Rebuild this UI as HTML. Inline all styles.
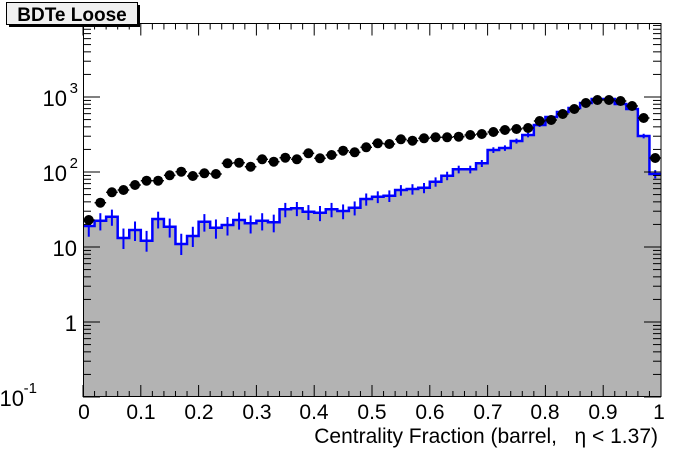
<!DOCTYPE html>
<html><head><meta charset="utf-8"><style>
html,body{margin:0;padding:0;background:#fff;}
svg{display:block;font-family:"Liberation Sans",Arial,sans-serif;}
</style></head><body>
<svg id="s" width="696" height="472" viewBox="0 0 696 472" xmlns="http://www.w3.org/2000/svg">
<g id="plot"></g>
<g id="axes" stroke="#000" stroke-width="1" fill="none"></g>
<rect x="83.5" y="23.5" width="577.5" height="373" fill="none" stroke="#000" stroke-width="1"/>
<g font-size="22" fill="#000" text-anchor="end">
<text x="67" y="106">10</text><text x="78" y="93" font-size="15" text-anchor="end">3</text>
<text x="67" y="181">10</text><text x="78" y="168" font-size="15" text-anchor="end">2</text>
<text x="77" y="256">10</text>
<text x="77" y="331">1</text>
<text x="24" y="406">10</text><text x="37" y="393" font-size="15" text-anchor="end">-1</text>
</g>
<g font-size="21" fill="#000" text-anchor="middle">
<text x="84" y="419">0</text><text x="141" y="419">0.1</text><text x="199" y="419">0.2</text>
<text x="257" y="419">0.3</text><text x="314" y="419">0.4</text><text x="372" y="419">0.5</text>
<text x="430" y="419">0.6</text><text x="488" y="419">0.7</text><text x="545" y="419">0.8</text>
<text x="603" y="419">0.9</text><text x="659" y="419">1</text>
</g>
<text x="658" y="443" font-size="21" text-anchor="end" fill="#000" xml:space="preserve" style="white-space:pre">Centrality Fraction (barrel,   η &lt; 1.37)</text>
<rect x="9" y="5" width="131" height="22" fill="#000"/>
<rect x="6.5" y="2.5" width="131" height="22" fill="#f0f0f0" stroke="#000"/>
<text x="72" y="21" font-size="19" font-weight="bold" text-anchor="middle" fill="#000">BDTe Loose</text>
</svg>
<script>
var X0=83,W=578,bw=W/50,Y0=397;
function ly(v){return 97-75*(Math.log10(v)-3);}
var blue=[226,220.7,216.7,238,230,240.7,219,226.7,244,236,221.7,227.7,225,220,223.3,220.7,222.3,209.3,208.3,211.7,212.7,209.3,211,207.7,199,196.7,195.7,190,189,187.7,181.7,175.7,169.3,169.3,163.3,150,148,141,135,125,117,112,108,103,99,99,104,109,136,174];
var blk=[220,202.7,192.3,190,185,180.7,180.7,175.3,171.7,176,173.3,174,163.3,162.7,166.7,159.3,161.7,157.7,159.3,153.3,158.3,155,150.7,152.3,147.3,143.3,144,139.3,140.7,138.3,137.3,137.3,136.7,135,134,132,130,129,128,121,120,114,109,103,100,100,101,106,118,158];
var ns="http://www.w3.org/2000/svg",P=document.getElementById("plot"),A=document.getElementById("axes");
function el(t,a,p){var e=document.createElementNS(ns,t);for(var k in a)e.setAttribute(k,a[k]);(p||P).appendChild(e);return e;}
var d="M"+X0+","+Y0;
for(var i=0;i<50;i++){d+=" L"+(X0+i*bw)+","+blue[i]+" L"+(X0+(i+1)*bw)+","+blue[i];}
d+=" L"+(X0+W)+","+Y0+" Z";
el("path",{d:d,fill:"#b3b3b3",stroke:"none"});
var d2="M"+X0+","+blue[0];
for(var i=0;i<50;i++){d2+=" L"+(X0+i*bw)+","+blue[i]+" L"+(X0+(i+1)*bw)+","+blue[i];}
el("path",{d:d2,fill:"none",stroke:"#0000ff","stroke-width":2.5});
for(var i=0;i<50;i++){var cx=X0+(i+0.5)*bw,v=Math.pow(10,3-(blue[i]-97)/75),e=Math.sqrt(v*1.5);
var e1=Math.min(ly(Math.max(v-e,0.2)),blue[i]+11),e2=ly(v+e);
el("line",{x1:cx,x2:cx,y1:e2,y2:e1,stroke:"#0000ff","stroke-width":2});}
for(var i=0;i<50;i++){var cx=X0+(i+0.5)*bw;
el("line",{x1:X0+i*bw,x2:X0+(i+1)*bw,y1:blk[i],y2:blk[i],stroke:"#000","stroke-width":1.5});
el("circle",{cx:cx,cy:blk[i],r:5,fill:"#000"});}
for(var dec=-1;dec<4;dec++){for(var m=1;m<10;m++){var y=ly(m*Math.pow(10,dec));if(y<23)continue;var L=(m==1)?17:8;
el("line",{x1:X0,x2:X0+L,y1:y,y2:y},A);el("line",{x1:X0+W,x2:X0+W-L,y1:y,y2:y},A);}}
for(var k=0;k<=50;k++){var x=X0+k*W/50;var L=(k%5==0)?12:6;
el("line",{x1:x,x2:x,y1:Y0,y2:Y0-L},A);el("line",{x1:x,x2:x,y1:23.5,y2:23.5+L},A);}
</script>
</body></html>
